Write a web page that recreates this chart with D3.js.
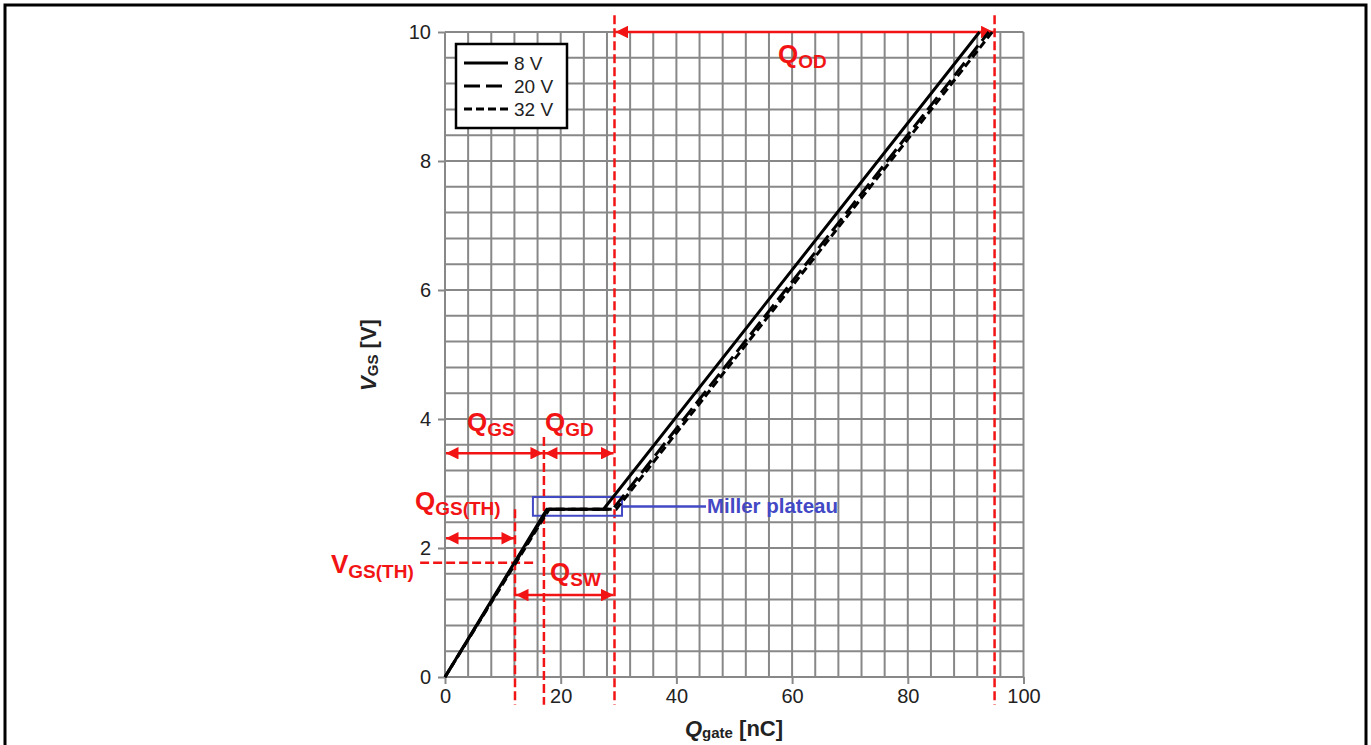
<!DOCTYPE html>
<html>
<head>
<meta charset="utf-8">
<script src="https://cdn.jsdelivr.net/npm/d3@7"></script>
<style>
  body { margin: 0; background: #fff; }
  svg { display: block; font-family: "Liberation Sans", Arial, sans-serif; }
</style>
</head>
<body>
<svg id="chart"></svg>
<script>
var width = 1371,
    height = 745;

// gate charge curves, one per drain voltage
var seriesNames = ["8 V", "20 V", "32 V"];
var qGate8 = [0, 17.6, 27.4, 92.4],
    vgs8 = [0, 2.6, 2.6, 10];
var qGate20 = [0, 17.8, 29.0, 94.0],
    vgs20 = [0, 2.6, 2.6, 10];
var qGate32 = [0, 18.0, 29.6, 94.6],
    vgs32 = [0, 2.6, 2.6, 10];

var xTickLabels = [0, 20, 40, 60, 80, 100],
    yTickLabels = [0, 2, 4, 6, 8, 10];
var xGrid = d3.range(0, 101, 4),
    yGrid = d3.range(0, 10.01, 0.4);

// annotation values (nC / V)
var qTh = 12.1, qGs = 17.1, qSw = 29.3, qOd = 95.0;
var vTh = 1.77, vArrowGs = 3.47, vArrowTh = 2.15, vArrowSw = 1.27;
var millerQ = [15.2, 30.6], millerV = [2.50, 2.79];

var svg = d3.select("#chart").attr("width", width).attr("height", height);

var x = d3.scaleLinear().domain([0, 100]).range([445, 1023.5]);
var y = d3.scaleLinear().domain([0, 10]).range([677, 32]);

var red = "#f21414", blue = "#4348c4";

svg.append("rect")
    .attr("x", 5).attr("y", 5)
    .attr("width", width - 10).attr("height", height + 40)
    .attr("fill", "none").attr("stroke", "#000").attr("stroke-width", 3);

/**
 * Grid
 */
var grid = svg.append("g").attr("stroke", "#888").attr("stroke-width", 2);
grid.selectAll(".gx").data(xGrid).enter().append("line")
    .attr("x1", function(d) { return x(d); })
    .attr("x2", function(d) { return x(d); })
    .attr("y1", y(0)).attr("y2", y(10));
grid.selectAll(".gy").data(yGrid).enter().append("line")
    .attr("y1", function(d) { return y(d); })
    .attr("y2", function(d) { return y(d); })
    .attr("x1", x(0)).attr("x2", x(100));

/**
 * Axes
 */
var xAxis = svg.append("g")
    .attr("transform", "translate(0," + y(0) + ")")
    .call(d3.axisBottom(x).tickValues(xTickLabels).tickSize(7).tickPadding(5));
var yAxis = svg.append("g")
    .attr("transform", "translate(" + x(0) + ",0)")
    .call(d3.axisLeft(y).tickValues(yTickLabels).tickSize(7).tickPadding(7));

[xAxis, yAxis].forEach(function(a) {
    a.select(".domain").remove();
    a.selectAll(".tick line").attr("stroke", "#888").attr("stroke-width", 2);
    a.selectAll(".tick text")
        .attr("fill", "#222")
        .style("font-size", "20px")
        .style("font-family", "Liberation Sans, Arial, sans-serif");
});

var xTitle = svg.append("text")
    .attr("x", 734).attr("y", 736)
    .attr("text-anchor", "middle")
    .style("font-size", "22px").style("font-weight", "bold").attr("fill", "#222");
xTitle.append("tspan").text("Q").style("font-style", "italic");
xTitle.append("tspan").text("gate").style("font-size", "15px").attr("dy", 2);
xTitle.append("tspan").text(" [nC]").attr("dy", -2);

var yTitle = svg.append("text")
    .attr("transform", "translate(376,355) rotate(-90)")
    .attr("text-anchor", "middle")
    .style("font-size", "22px").style("font-weight", "bold").attr("fill", "#222");
yTitle.append("tspan").text("V").style("font-style", "italic");
yTitle.append("tspan").text("GS").style("font-size", "15px").attr("dy", 2);
yTitle.append("tspan").text(" [V]").attr("dy", -2);

/**
 * Red markers and arrows
 */
var defs = svg.append("defs");
["start", "end"].forEach(function(k) {
    defs.append("marker")
        .attr("id", "arrow-" + k)
        .attr("viewBox", "0 0 10 10")
        .attr("refX", k === "end" ? 10 : 0).attr("refY", 5)
        .attr("markerWidth", 6).attr("markerHeight", 5)
        .attr("markerUnits", "strokeWidth")
        .attr("orient", "auto")
        .append("path")
        .attr("d", k === "end" ? "M0,0 L10,5 L0,10 Z" : "M10,0 L0,5 L10,10 Z")
        .attr("fill", red);
});

var marks = svg.append("g");
var vlines = [[qTh, 2.6, -0.43], [qGs, 3.72, -0.43], [qSw, 10.26, -0.43], [qOd, 10.26, -0.43]];
marks.selectAll(".vl").data(vlines).enter().append("line")
    .attr("x1", function(d) { return x(d[0]); })
    .attr("x2", function(d) { return x(d[0]); })
    .attr("y1", function(d) { return y(d[1]); })
    .attr("y2", function(d) { return y(d[2]); })
    .attr("stroke", red).attr("stroke-width", 2.5).attr("stroke-dasharray", "9,4");

marks.append("line")
    .attr("x1", x(-4.3)).attr("x2", x(15.5))
    .attr("y1", y(vTh)).attr("y2", y(vTh))
    .attr("stroke", red).attr("stroke-width", 2.5).attr("stroke-dasharray", "9,4");

var arrows = [[0, qGs, vArrowGs], [qGs, qSw, vArrowGs], [0, qTh, vArrowTh], [qTh, qSw, vArrowSw], [qSw, qOd, 10]];
marks.selectAll(".ar").data(arrows).enter().append("line")
    .attr("x1", function(d) { return x(d[0]) + 1; })
    .attr("x2", function(d) { return x(d[1]) - 1; })
    .attr("y1", function(d) { return y(d[2]); })
    .attr("y2", function(d) { return y(d[2]); })
    .attr("stroke", red).attr("stroke-width", 2.5)
    .attr("marker-start", "url(#arrow-start)")
    .attr("marker-end", "url(#arrow-end)");

function redLabel(px, py, main, sub) {
    var t = svg.append("text").attr("x", px).attr("y", py)
        .attr("fill", red).style("font-weight", "bold").style("font-size", "26px");
    t.append("tspan").text(main);
    t.append("tspan").text(sub).style("font-size", "19px").attr("dy", 5);
}
redLabel(467, 431, "Q", "GS");
redLabel(545, 431, "Q", "GD");
redLabel(415, 510, "Q", "GS(TH)");
redLabel(331, 573, "V", "GS(TH)");
redLabel(550, 581, "Q", "SW");
redLabel(778, 63, "Q", "OD");

/**
 * Miller plateau box
 */
svg.append("rect")
    .attr("x", x(millerQ[0])).attr("y", y(millerV[1]))
    .attr("width", x(millerQ[1]) - x(millerQ[0]))
    .attr("height", y(millerV[0]) - y(millerV[1]))
    .attr("fill", "none").attr("stroke", blue).attr("stroke-width", 2);
svg.append("line")
    .attr("x1", x(millerQ[1])).attr("x2", 706)
    .attr("y1", y(d3.mean(millerV))).attr("y2", y(d3.mean(millerV)))
    .attr("stroke", blue).attr("stroke-width", 2.5);
svg.append("text")
    .attr("x", 707).attr("y", y(d3.mean(millerV)) + 7)
    .attr("fill", blue).style("font-weight", "bold").style("font-size", "20.5px")
    .text("Miller plateau");

/**
 * Curves
 */
var dashes = [null, "16,6", "8,4"];
var series = [
    d3.zip(qGate8, vgs8),
    d3.zip(qGate20, vgs20),
    d3.zip(qGate32, vgs32)
];
var line = d3.line().x(function(d) { return x(d[0]); }).y(function(d) { return y(d[1]); });

svg.append("g").selectAll("path").data(series).enter().append("path")
    .attr("d", line)
    .attr("fill", "none").attr("stroke", "#000").attr("stroke-width", 3)
    .attr("stroke-dasharray", function(d, i) { return dashes[i]; });

/**
 * Legend
 */
var legend = svg.append("g").attr("transform", "translate(456,44)");
legend.append("rect")
    .attr("width", 111).attr("height", 84)
    .attr("fill", "#fff").attr("stroke", "#000").attr("stroke-width", 2.5);
var item = legend.selectAll(".item").data(seriesNames).enter().append("g")
    .attr("transform", function(d, i) { return "translate(0," + (19 + i * 23) + ")"; });
item.append("line")
    .attr("x1", 8).attr("x2", 52)
    .attr("stroke", "#000").attr("stroke-width", 3)
    .attr("stroke-dasharray", function(d, i) { return dashes[i]; });
item.append("text")
    .attr("x", 58).attr("y", 7)
    .style("font-size", "19px").attr("fill", "#222")
    .text(function(d) { return d; });
</script>
</body>
</html>
